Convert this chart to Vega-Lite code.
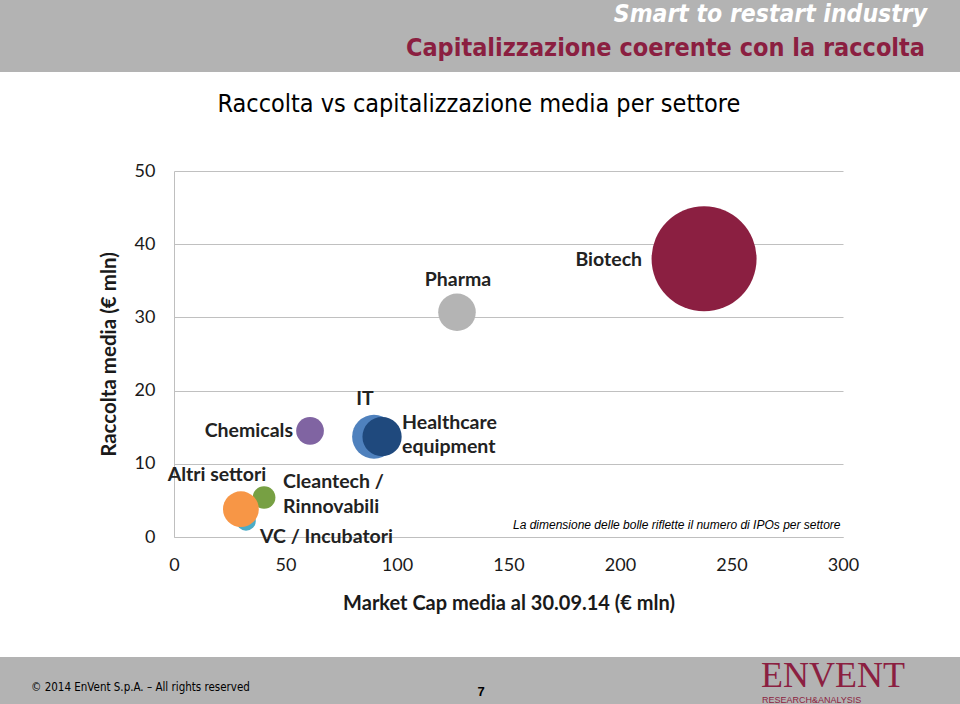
{
  "$schema": "https://vega.github.io/schema/vega-lite/v6.json",
  "background": "white",
  "padding": 0,
  "bounds": "full",
  "spacing": 44,
  "config": {"view": {"stroke": null}, "font": "Lato"},
  "vconcat": [
    {
      "bounds": "flush",
      "spacing": 99,
      "vconcat": [
        {
          "width": 960,
          "height": 72,
          "view": {"fill": "#b3b3b3", "stroke": null},
          "layer": [
            {
              "data": {"values": [{"t": "Smart to restart industry"}]},
              "mark": {"type": "text", "align": "right", "baseline": "middle", "dx": 447, "dy": -21, "font": "DejaVu Sans Condensed, sans-serif", "fontSize": 24.5, "fontStyle": "italic", "fontWeight": "bold", "color": "#ffffff"},
              "encoding": {"text": {"field": "t"}}
            },
            {
              "data": {"values": [{"t": "Capitalizzazione coerente con la raccolta"}]},
              "mark": {"type": "text", "align": "right", "baseline": "middle", "dx": 445, "dy": 12, "font": "DejaVu Sans Condensed, sans-serif", "fontSize": 25, "fontWeight": "bold", "color": "#8b1f41"},
              "encoding": {"text": {"field": "t"}}
            }
          ]
        },
        {
          "bounds": "flush",
          "spacing": 0,
          "hconcat": [
            {
              "width": 174,
              "height": 366,
              "data": {"values": []},
              "mark": {"type": "point", "opacity": 0},
              "encoding": {}
            },
            {
              "width": 669,
              "height": 366,
              "title": {"text": "Raccolta vs capitalizzazione media per settore", "font": "DejaVu Sans Condensed, sans-serif", "fontSize": 25, "fontWeight": "normal", "color": "#000000", "offset": 45, "anchor": "middle", "frame": "bounds"},
              "data": {"values": [
                {"sector": "VC / Incubatori", "cap": 32.3, "raccolta": 2.2, "ipo": 3},
                {"sector": "Cleantech / Rinnovabili", "cap": 40.4, "raccolta": 5.4, "ipo": 4},
                {"sector": "Altri settori", "cap": 30, "raccolta": 3.8, "ipo": 10},
                {"sector": "Chemicals", "cap": 61, "raccolta": 14.5, "ipo": 6},
                {"sector": "IT", "cap": 89.7, "raccolta": 13.7, "ipo": 15},
                {"sector": "Healthcare equipment", "cap": 93.3, "raccolta": 13.7, "ipo": 12},
                {"sector": "Pharma", "cap": 126.9, "raccolta": 30.7, "ipo": 11},
                {"sector": "Biotech", "cap": 237.7, "raccolta": 38.0, "ipo": 86}
              ]},
              "layer": [
                {
                  "mark": {"type": "circle", "opacity": 1},
                  "encoding": {
                    "x": {"field": "cap", "type": "quantitative", "scale": {"domain": [0, 300], "nice": false}, "axis": {"values": [0, 50, 100, 150, 200, 250, 300], "title": "Market Cap media al 30.09.14 (€ mln)", "grid": false, "ticks": false, "domain": true, "domainColor": "#bfbfbf", "labelFont": "Lato", "labelFontSize": 18, "labelColor": "#1a1a1a", "labelPadding": 19, "labelFlush": false, "labelOverlap": false, "titleFont": "Lato", "titleFontSize": 20, "titleFontWeight": "bold", "titleColor": "#1a1a1a", "titlePadding": 19}},
                    "y": {"field": "raccolta", "type": "quantitative", "scale": {"domain": [0, 50], "nice": false}, "axis": {"values": [0, 10, 20, 30, 40, 50], "title": "Raccolta media (€ mln)", "grid": true, "gridColor": "#c0c0c0", "ticks": false, "domain": true, "domainColor": "#bfbfbf", "labelFont": "Lato", "labelFontSize": 18, "labelColor": "#1a1a1a", "labelPadding": 19, "labelFlush": false, "labelOverlap": false, "titleFont": "Lato", "titleFontSize": 20.5, "titleFontWeight": "bold", "titleColor": "#1a1a1a", "titlePadding": 15}},
                    "size": {"field": "ipo", "type": "quantitative", "scale": {"domain": [0, 86], "range": [0, 11025]}, "legend": null},
                    "color": {"field": "sector", "type": "nominal", "legend": null, "scale": {
                      "domain": ["VC / Incubatori", "Cleantech / Rinnovabili", "Altri settori", "Chemicals", "IT", "Healthcare equipment", "Pharma", "Biotech"],
                      "range": ["#4bacc6", "#77a043", "#f79646", "#8064a2", "#4f81bd", "#1f497d", "#b4b4b4", "#8b1f41"]}}
                  }
                },
                {
                  "transform": [{"filter": "datum.sector == 'Chemicals'"}],
                  "mark": {"type": "text", "align": "right", "baseline": "middle", "dx": -17, "dy": 0, "font": "Lato", "fontSize": 19.5, "fontWeight": "bold", "color": "#222222"},
                  "encoding": {"x": {"field": "cap", "type": "quantitative"}, "y": {"field": "raccolta", "type": "quantitative"}, "text": {"field": "sector"}}
                },
                {
                  "transform": [{"filter": "datum.sector == 'IT'"}],
                  "mark": {"type": "text", "align": "center", "baseline": "middle", "dx": -9, "dy": -38, "font": "Lato", "fontSize": 19.5, "fontWeight": "bold", "color": "#222222"},
                  "encoding": {"x": {"field": "cap", "type": "quantitative"}, "y": {"field": "raccolta", "type": "quantitative"}, "text": {"field": "sector"}}
                },
                {
                  "transform": [{"filter": "datum.sector == 'Healthcare equipment'"}],
                  "mark": {"type": "text", "align": "left", "baseline": "middle", "dx": 20, "dy": -14, "lineBreak": " ", "lineHeight": 24, "font": "Lato", "fontSize": 19.5, "fontWeight": "bold", "color": "#222222"},
                  "encoding": {"x": {"field": "cap", "type": "quantitative"}, "y": {"field": "raccolta", "type": "quantitative"}, "text": {"field": "sector"}}
                },
                {
                  "transform": [{"filter": "datum.sector == 'Cleantech / Rinnovabili'"}],
                  "mark": {"type": "text", "align": "left", "baseline": "middle", "dx": 19, "dy": -15, "lineHeight": 25, "font": "Lato", "fontSize": 19.5, "fontWeight": "bold", "color": "#222222"},
                  "encoding": {"x": {"field": "cap", "type": "quantitative"}, "y": {"field": "raccolta", "type": "quantitative"}, "text": {"value": ["Cleantech /", "Rinnovabili"]}}
                },
                {
                  "transform": [{"filter": "datum.sector == 'Altri settori'"}],
                  "mark": {"type": "text", "align": "center", "baseline": "middle", "dx": -24, "dy": -34, "font": "Lato", "fontSize": 19.5, "fontWeight": "bold", "color": "#222222"},
                  "encoding": {"x": {"field": "cap", "type": "quantitative"}, "y": {"field": "raccolta", "type": "quantitative"}, "text": {"field": "sector"}}
                },
                {
                  "transform": [{"filter": "datum.sector == 'VC / Incubatori'"}],
                  "mark": {"type": "text", "align": "left", "baseline": "middle", "dx": 14, "dy": 16, "font": "Lato", "fontSize": 19.5, "fontWeight": "bold", "color": "#222222"},
                  "encoding": {"x": {"field": "cap", "type": "quantitative"}, "y": {"field": "raccolta", "type": "quantitative"}, "text": {"field": "sector"}}
                },
                {
                  "transform": [{"filter": "datum.sector == 'Pharma'"}],
                  "mark": {"type": "text", "align": "center", "baseline": "middle", "dx": 1, "dy": -32, "font": "Lato", "fontSize": 19.5, "fontWeight": "bold", "color": "#222222"},
                  "encoding": {"x": {"field": "cap", "type": "quantitative"}, "y": {"field": "raccolta", "type": "quantitative"}, "text": {"field": "sector"}}
                },
                {
                  "transform": [{"filter": "datum.sector == 'Biotech'"}],
                  "mark": {"type": "text", "align": "right", "baseline": "middle", "dx": -62, "dy": 1, "font": "Lato", "fontSize": 19.5, "fontWeight": "bold", "color": "#222222"},
                  "encoding": {"x": {"field": "cap", "type": "quantitative"}, "y": {"field": "raccolta", "type": "quantitative"}, "text": {"field": "sector"}}
                },
                {
                  "data": {"values": [{"note": "La dimensione delle bolle riflette il numero di IPOs per settore"}]},
                  "mark": {"type": "text", "align": "right", "baseline": "middle", "dx": 332, "dy": 171, "font": "Liberation Sans, Arial, sans-serif", "fontSize": 12, "fontStyle": "italic", "color": "#000000"},
                  "encoding": {"text": {"field": "note"}}
                }
              ]
            }
          ]
        }
      ]
    },
    {
      "width": 960,
      "height": 47,
      "view": {"fill": "#b3b3b3", "stroke": null},
      "layer": [
        {
          "data": {"values": [{"t": "© 2014 EnVent S.p.A. – All rights reserved"}]},
          "mark": {"type": "text", "align": "left", "baseline": "middle", "dx": -449, "dy": 7, "font": "DejaVu Sans Condensed, sans-serif", "fontSize": 11.5, "color": "#000000"},
          "encoding": {"text": {"field": "t"}}
        },
        {
          "data": {"values": [{"t": "7"}]},
          "mark": {"type": "text", "align": "center", "baseline": "middle", "dx": 1, "dy": 11, "font": "Liberation Sans, Arial, sans-serif", "fontSize": 13, "fontWeight": "bold", "color": "#000000"},
          "encoding": {"text": {"field": "t"}}
        },
        {
          "data": {"values": [{"t": "ENVENT"}]},
          "mark": {"type": "text", "align": "left", "baseline": "alphabetic", "dx": 281, "dy": 6, "font": "Liberation Serif, DejaVu Serif, serif", "fontSize": 36, "color": "#8b1f41"},
          "encoding": {"text": {"field": "t"}}
        },
        {
          "data": {"values": [{"t": "RESEARCH&ANALYSIS"}]},
          "mark": {"type": "text", "align": "left", "baseline": "alphabetic", "dx": 282, "dy": 22, "font": "Liberation Sans, Arial, sans-serif", "fontSize": 9, "color": "#8b1f41"},
          "encoding": {"text": {"field": "t"}}
        }
      ]
    }
  ]
}
